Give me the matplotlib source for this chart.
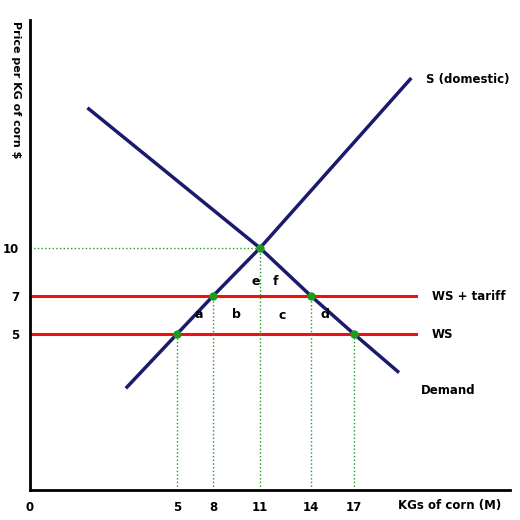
import numpy as np
import matplotlib
matplotlib.use("Agg")
import matplotlib.pyplot as plt

# data
supply_q = [3.3, 5, 8, 11, 18.8]
supply_p = [3.3, 5, 7, 10, 17.4]
demand_q = [2.0, 11, 14, 17, 18.4]
demand_p = [16.1, 10, 7, 5, 3.8]
ws_price = 5
tariff_price = 7
eq_price = 10
eq_q = 11
points_q = [5, 8, 11, 14, 17]
points_p = [5, 7, 10, 7, 5]
x_ticks = [0, 5, 8, 11, 14, 17]
y_ticks = [5, 7, 10]
area_labels = ["a", "b", "c", "d", "e", "f"]
area_q = [6.85, 9.5, 12.3, 15.0, 10.7, 11.9]
area_p = [6.0, 6.0, 5.95, 6.0, 7.9, 7.9]

# piecewise scale reproducing the hand-drawn spacing
xd = [0, 5, 8, 11, 14, 17, 22]; xp = [0, 147, 183, 230, 281, 324, 480]
yd = [0, 5, 7, 10, 20]; yp = [0, 156, 194, 242, 470]
fx = (lambda v: np.interp(v, xd, xp), lambda v: np.interp(v, xp, xd))
fy = (lambda v: np.interp(v, yd, yp), lambda v: np.interp(v, yp, yd))

fig = plt.figure(figsize=(5.2, 5.2), dpi=100)
ax = fig.add_axes([30/520, 30/520, 480/520, 470/520])
ax.set_xscale("function", functions=fx)
ax.set_yscale("function", functions=fy)
ax.set_xlim(0, 22); ax.set_ylim(0, 20)

navy = "#1a1a6e"; red = "#ee1111"; green = "#1a9e1a"
ax.plot(supply_q, supply_p, color=navy, lw=2.5)
ax.plot(demand_q, demand_p, color=navy, lw=2.5)
ax.plot([0, 19.0], [tariff_price]*2, color=red, lw=2.2)
ax.plot([0, 19.0], [ws_price]*2, color=red, lw=2.2)
ax.plot([0, eq_q], [eq_price]*2, color=green, lw=1, ls=":")
for q, p in zip(points_q, points_p):
    ax.plot([q, q], [0, p], color=green, lw=1, ls=":")
ax.scatter(points_q, points_p, color=green, s=25, zorder=5)
for t, q, p in zip(area_labels, area_q, area_p):
    ax.text(q, p, t, fontsize=9, fontweight="bold", ha="center", va="center")

ax.text(19.3, 17.4, "S (domestic)", fontsize=8.5, fontweight="bold", va="center")
ax.text(19.5, tariff_price, "WS + tariff", fontsize=8.5, fontweight="bold", va="center")
ax.text(19.5, ws_price, "WS", fontsize=8.5, fontweight="bold", va="center")
ax.text(19.15, 3.2, "Demand", fontsize=8.5, fontweight="bold", va="center")
fig.text(398/520, 1-505/520, "KGs of corn (M)", fontsize=8.5, fontweight="bold", va="center")
fig.text(16/520, 1-90/520, "Price per KG of corn $", fontsize=8, fontweight="bold",
         rotation=-90, ha="center", va="center")

ax.set_xticks(x_ticks); ax.set_xticklabels([str(v) for v in x_ticks], fontweight="bold", fontsize=8.5)
ax.set_yticks(y_ticks); ax.set_yticklabels([str(v) for v in y_ticks], fontweight="bold", fontsize=8.5)
ax.tick_params(length=0, pad=8)
for s in ["top", "right"]:
    ax.spines[s].set_visible(False)
for s in ["left", "bottom"]:
    ax.spines[s].set_linewidth(2)
ax.minorticks_off()
fig.savefig("out.png", dpi=100)
